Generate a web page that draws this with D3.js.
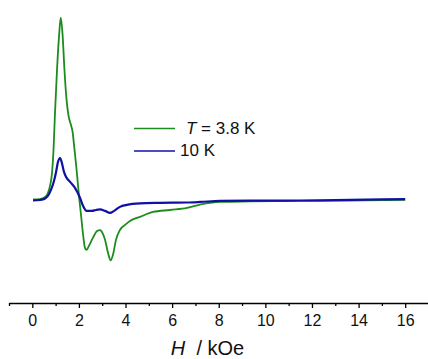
<!DOCTYPE html>
<html>
<head>
<meta charset="utf-8">
<script src="https://cdn.jsdelivr.net/npm/d3@7"></script>
<style>
  html, body { margin: 0; padding: 0; background: #fff; }
  svg { display: block; font-family: "Liberation Sans", Arial, sans-serif; }
</style>
</head>
<body>
<svg id="chart" width="428" height="359"></svg>
<script>
// Field values H (kOe) and signal (arb. units) for each temperature
const fieldGreen = [0.03,0.33,0.55,0.67,0.76,0.85,0.91,0.97,1.06,1.15,1.22,1.30,1.38,1.47,1.55,1.66,1.73,1.79,1.88,1.94,2.00,2.09,2.18,2.26,2.33,2.43,2.60,2.78,2.91,2.99,3.12,3.25,3.36,3.46,3.59,3.76,3.98,4.19,4.62,5.18,5.91,6.64,6.98,7.33,7.72,8.06,9.34,11.49,13.64,16.0];
const signal38K = [0.003,0.005,0.016,0.038,0.077,0.154,0.274,0.466,0.713,0.905,1.0,0.905,0.713,0.549,0.466,0.411,0.373,0.302,0.192,0.110,0.027,-0.082,-0.192,-0.263,-0.274,-0.252,-0.208,-0.170,-0.165,-0.176,-0.219,-0.291,-0.332,-0.302,-0.219,-0.165,-0.137,-0.115,-0.093,-0.066,-0.055,-0.044,-0.033,-0.022,-0.014,-0.011,-0.008,-0.005,-0.003,0.0];

const fieldBlue = [0.03,0.33,0.55,0.67,0.80,0.93,1.02,1.10,1.19,1.27,1.36,1.45,1.62,1.83,2.05,2.18,2.33,2.56,2.73,2.91,3.12,3.33,3.51,3.76,4.06,4.62,5.48,6.64,7.20,8.06,9.34,11.49,13.64,16.0];
const signal10K = [-0.003,0.0,0.008,0.022,0.055,0.104,0.154,0.208,0.230,0.203,0.154,0.126,0.099,0.066,0.011,-0.033,-0.060,-0.060,-0.055,-0.052,-0.060,-0.071,-0.060,-0.038,-0.027,-0.019,-0.016,-0.014,-0.011,-0.005,-0.004,-0.003,0.0,0.005];

const xTicks = [0,2,4,6,8,10,12,14,16];
const xMinorTicks = [-1,1,3,5,7,9,11,13,15,17];
const legendLabels = ["3.8 K", "10 K"];

const colGreen = "#1c8c1c";
const colBlue = "#1010a4";

const svg = d3.select("#chart");

const x = d3.scaleLinear().domain([-1, 17]).range([9, 428.5]);
const y = d3.scaleLinear().domain([-0.56, 1.07]).range([302, 5]);

// Bottom axis: major ticks with labels, minor ticks between
const axisY = 303;
svg.append("g")
  .attr("transform", `translate(0,${axisY})`)
  .call(d3.axisBottom(x).tickValues(xMinorTicks).tickSize(3).tickFormat(""))
  .call(g => g.select(".domain").remove())
  .call(g => g.selectAll("line").attr("stroke", "#000").attr("stroke-width", 1.3));

const gx = svg.append("g")
  .attr("transform", `translate(0,${axisY})`)
  .call(d3.axisBottom(x).tickValues(xTicks).tickSize(5).tickSizeOuter(0).tickPadding(7).tickFormat(d3.format("d")));
gx.select(".domain").attr("stroke", "#000").attr("stroke-width", 1.3);
gx.selectAll(".tick line").attr("stroke", "#000").attr("stroke-width", 1.3);
gx.selectAll(".tick text").attr("font-size", 16).attr("fill", "#111")
  .attr("font-family", "'Liberation Sans', Arial, sans-serif");

// Axis title
const title = svg.append("text")
  .attr("x", 207.5).attr("y", 355)
  .attr("text-anchor", "middle")
  .attr("font-size", 20).attr("fill", "#111");
title.append("tspan").attr("font-style", "italic").text("H");
title.append("tspan").attr("xml:space", "preserve").text("  / kOe");

// Curves
const line = d3.line()
  .x(d => x(d[0]))
  .y(d => y(d[1]))
  .curve(d3.curveMonotoneX);

const green = fieldGreen.map((h, i) => [h, signal38K[i]]);
const blue = fieldBlue.map((h, i) => [h, signal10K[i]]);

svg.append("path").datum(green)
  .attr("d", line).attr("fill", "none")
  .attr("stroke", colGreen).attr("stroke-width", 1.8).attr("stroke-linejoin", "round");
svg.append("path").datum(blue)
  .attr("d", line).attr("fill", "none")
  .attr("stroke", colBlue).attr("stroke-width", 2.2).attr("stroke-linejoin", "round");

// Legend
const legend = svg.append("g");
legend.append("line").attr("x1", 134).attr("x2", 175).attr("y1", 128.5).attr("y2", 128.5)
  .attr("stroke", colGreen).attr("stroke-width", 1.5);
legend.append("line").attr("x1", 134).attr("x2", 175).attr("y1", 151).attr("y2", 151)
  .attr("stroke", colBlue).attr("stroke-width", 1.5);
const t1 = legend.append("text").attr("x", 186).attr("y", 134)
  .attr("font-size", 17).attr("fill", "#111");
t1.append("tspan").attr("font-style", "italic").text("T");
t1.append("tspan").text(" = " + legendLabels[0]);
legend.append("text").attr("x", 180).attr("y", 155.5)
  .attr("font-size", 17).attr("fill", "#111").text(legendLabels[1]);
</script>
</body>
</html>
